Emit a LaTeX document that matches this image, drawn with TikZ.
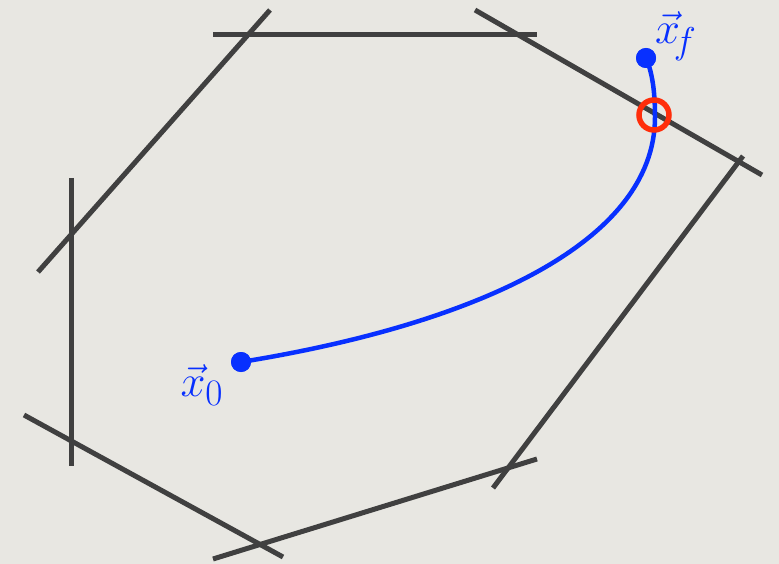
\documentclass[tikz,border=0pt]{standalone}
\usepackage{amsmath}
\definecolor{bgc}{RGB}{232,231,226}
\definecolor{linec}{RGB}{64,64,64}
\definecolor{pathc}{RGB}{8,48,255}
\definecolor{ringc}{RGB}{255,45,10}
\begin{document}
\begin{tikzpicture}[x=1pt,y=-1pt,
  bound/.style={draw=linec,line width=5pt},
  traj/.style={draw=pathc,line width=4.5pt},
  dot/.style={circle,fill=pathc,inner sep=0pt,minimum size=20pt},
  lab/.style={text=pathc,font=\Huge,scale=1.8,inner sep=0pt}]
\fill[bgc] (0,0) rectangle (779,564);
\useasboundingbox (0,0) rectangle (779,564);
% boundary lines
\coordinate (t1) at (213,35);  \coordinate (t2) at (537,35);
\coordinate (ul1) at (270,10); \coordinate (ul2) at (38,272);
\coordinate (v1) at (71,178);  \coordinate (v2) at (71,466);
\coordinate (ll1) at (24,415); \coordinate (ll2) at (283,557);
\coordinate (b1) at (213,559); \coordinate (b2) at (537,459);
\coordinate (rl1) at (743,156); \coordinate (rl2) at (493,488);
\coordinate (ur1) at (475,10); \coordinate (ur2) at (762,175);
\draw[bound] (t1) -- (t2);
\draw[bound] (ul1) -- (ul2);
\draw[bound] (v1) -- (v2);
\draw[bound] (ll1) -- (ll2);
\draw[bound] (b1) -- (b2);
\draw[bound] (rl1) -- (rl2);
\draw[bound] (ur1) -- (ur2);
% trajectory
\node[dot] (x0) at (241,362) {};
\node[dot] (xf) at (646,58) {};
\coordinate (hit) at (655,117);
\draw[traj] (x0.center) .. controls (470,325) and (655,245) .. (hit)
  .. controls (655,90) and (652,72) .. (xf.center);
\node[dot] at (241,362) {};
\node[dot] at (646,58) {};
% hit marker
\node[draw=ringc,line width=5.5pt,circle,inner sep=0pt,minimum size=30pt] (ring) at (654,115) {};
% labels
\node[lab] (l0) at (202,385) {$\vec{x}_0$};
\node[lab] (lf) at (676,36) {$\vec{x}_{\!f}$};
\end{tikzpicture}
\end{document}
